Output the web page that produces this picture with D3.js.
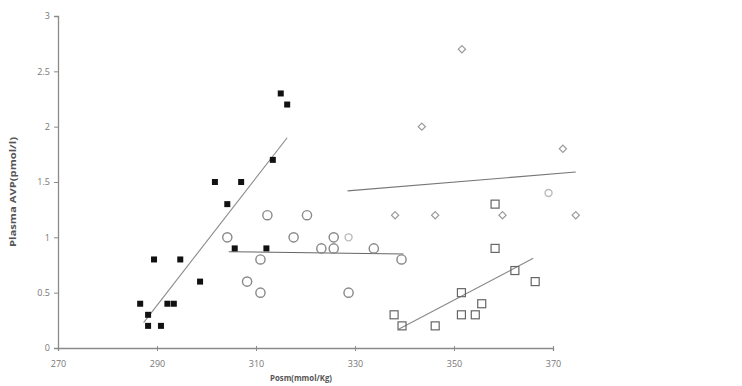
<!DOCTYPE html>
<html><head><meta charset="utf-8">
<script src="https://cdn.jsdelivr.net/npm/d3@7"></script>
<style>body{margin:0;background:#fff}svg{display:block}text{font-family:"Open Sans","DejaVu Sans",sans-serif}</style>
</head><body><svg id="c" width="742" height="386"></svg>
<script>
const xTicks=[270,290,310,330,350,370];
const yTicks=[0,0.5,1,1.5,2,2.5,3];
// filled squares
const sq1X=[315.0,316.3,313.4,301.7,307.0,304.2,305.7,312.1,289.4,294.7,298.7,286.6,292.1,293.4,288.2,288.2,290.8];
const sq1Y=[2.3,2.2,1.7,1.5,1.5,1.3,0.9,0.9,0.8,0.8,0.6,0.4,0.4,0.4,0.3,0.2,0.2];
const line1X=[287.3,316.3], line1Y=[0.23,1.90];
// open circles
const ciX=[312.3,320.3,304.2,317.6,325.7,328.7,323.2,325.7,333.8,310.9,339.4,308.2,310.9,328.7,369.1];
const ciY=[1.2,1.2,1.0,1.0,1.0,1.0,0.9,0.9,0.9,0.8,0.8,0.6,0.5,0.5,1.4];
const line2X=[304.5,339.8], line2Y=[0.87,0.85];
// diamonds
const diX=[351.6,343.5,372.0,338.1,346.2,359.8,374.6];
const diY=[2.7,2.0,1.8,1.2,1.2,1.2,1.2];
const line3X=[328.5,374.6], line3Y=[1.42,1.59];
// open squares
const sq2X=[358.3,358.3,362.3,366.4,351.5,355.6,351.5,354.3,337.9,339.5,346.2];
const sq2Y=[1.3,0.9,0.7,0.6,0.5,0.4,0.3,0.3,0.3,0.2,0.2];
const line4X=[338.8,366.0], line4Y=[0.17,0.81];

const svg=d3.select("#c");
const x=d3.scaleLinear().domain([270,370]).range([58,553]);
const y=d3.scaleLinear().domain([0,3]).range([348,16]);

const xa=svg.append("g").attr("transform","translate(0,348)")
  .call(d3.axisBottom(x).tickValues(xTicks).tickSize(3).tickPadding(10));
const ya=svg.append("g").attr("transform","translate(58,0)")
  .call(d3.axisLeft(y).tickValues(yTicks).tickSize(4).tickPadding(4).tickFormat(d=>d));
[xa,ya].forEach(a=>{
  a.select(".domain").attr("stroke","#8a8a8a").attr("stroke-width",1.3);
  a.selectAll(".tick line").attr("stroke","#8a8a8a");
  a.selectAll(".tick text").attr("fill","#777").attr("font-size",9);
});
xa.selectAll(".tick line").attr("y1",-2);

svg.append("text").attr("transform","translate(16,192) rotate(-90)").attr("text-anchor","middle")
  .attr("font-size",9.5).attr("font-weight","bold").attr("fill","#555")
  .attr("textLength",110).attr("lengthAdjust","spacingAndGlyphs").text("Plasma AVP(pmol/l)");
svg.append("text").attr("x",301).attr("y",381).attr("text-anchor","middle")
  .attr("font-size",9).attr("font-weight","bold").attr("fill","#555")
  .attr("textLength",62).attr("lengthAdjust","spacingAndGlyphs").text("Posm(mmol/Kg)");

function trend(xs,ys,col){
  svg.append("line").attr("x1",x(xs[0])).attr("y1",y(ys[0])).attr("x2",x(xs[1])).attr("y2",y(ys[1]))
    .attr("stroke",col).attr("stroke-width",1.1);
}
trend(line1X,line1Y,"#8a8a8a");
trend(line2X,line2Y,"#666");
trend(line3X,line3Y,"#777");
trend(line4X,line4Y,"#888");

const g=svg.append("g");
g.selectAll(".s1").data(d3.range(sq1X.length)).join("rect")
  .attr("x",i=>x(sq1X[i])-3).attr("y",i=>y(sq1Y[i])-3).attr("width",6).attr("height",6).attr("fill","#111");
g.selectAll(".ci").data(d3.range(ciX.length)).join("circle")
  .attr("cx",i=>x(ciX[i])).attr("cy",i=>y(ciY[i])).attr("r",i=>i>=ciX.length-1||i==5?3.5:4.6)
  .attr("fill","none").attr("stroke",i=>i>=ciX.length-1||i==5?"#bbb":"#888").attr("stroke-width",1.4);
g.selectAll(".di").data(d3.range(diX.length)).join("path")
  .attr("d",i=>{const cx=x(diX[i]),cy=y(diY[i]),r=3.6;return `M${cx},${cy-r}L${cx+r},${cy}L${cx},${cy+r}L${cx-r},${cy}Z`;})
  .attr("fill","none").attr("stroke","#999").attr("stroke-width",1.2);
g.selectAll(".s2").data(d3.range(sq2X.length)).join("rect")
  .attr("x",i=>x(sq2X[i])-4).attr("y",i=>y(sq2Y[i])-4).attr("width",8).attr("height",8)
  .attr("fill","none").attr("stroke","#666").attr("stroke-width",1.2);
</script></body></html>
